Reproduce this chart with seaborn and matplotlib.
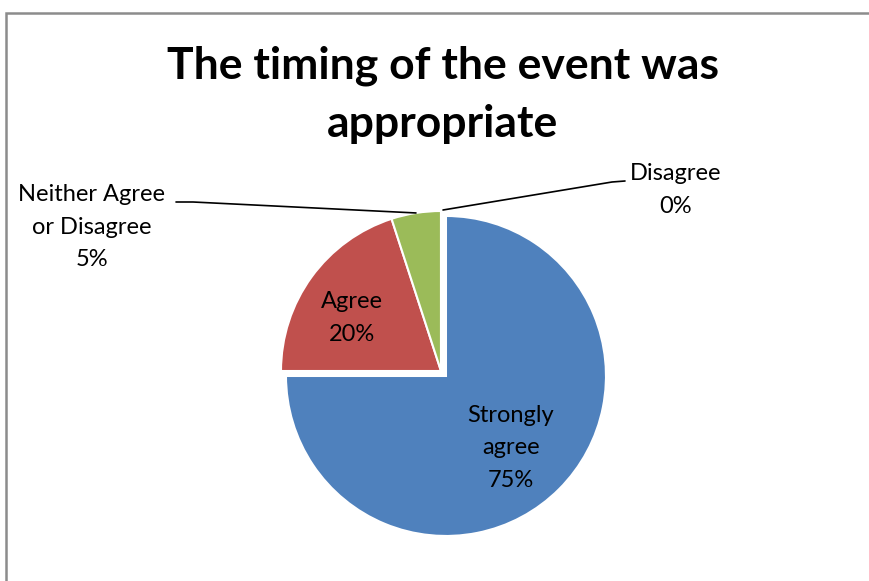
import numpy as np
import matplotlib
matplotlib.use("Agg")
import matplotlib.pyplot as plt
import seaborn as sns

# Survey responses
categories = ["Strongly agree", "Agree", "Neither Agree or Disagree", "Disagree"]
label_text = ["Strongly\nagree", "Agree", "Neither Agree\nor Disagree", "Disagree"]
percent = [75, 20, 5, 0]
colors = ["#4F81BD", "#C0504D", "#9BBB59", "#8064A2"]
title = "The timing of the event was\nappropriate"

sns.set_theme(style="white")
plt.rcParams["font.family"] = ["Lato", "DejaVu Sans"]

W, H = 869, 581
fig = plt.figure(figsize=(W / 100, H / 100), dpi=100)
ax = fig.add_axes([0, 0, 1, 1])
ax.set_xlim(0, W)
ax.set_ylim(0, H)
ax.set_aspect("equal")
ax.axis("off")

cx, cy, R = 441, H - 371, 160
# explode is given in data units when the radius is not 1
explode = [0.044 * R, 0, 0, 0]
wedges, _ = ax.pie(percent, colors=colors, startangle=90, counterclock=False,
                   center=(cx, cy), radius=R, explode=explode,
                   wedgeprops=dict(edgecolor="white", linewidth=1.5))
ax.set_xlim(0, W)
ax.set_ylim(0, H)

fs = 17
ls = 1.7
# In-slice labels
ax.text(511, H - 448, f"{label_text[0]}\n{percent[0]}%", ha="center", va="center",
        fontsize=fs, linespacing=ls, color="black")
ax.text(352, H - 318, f"{label_text[1]}\n{percent[1]}%", ha="center", va="center",
        fontsize=fs, linespacing=ls, color="black")

# Outside labels with leader lines to the slice arc
def arc_point(w):
    mid = np.deg2rad((w.theta1 + w.theta2) / 2)
    return w.center[0] + R * np.cos(mid), w.center[1] + R * np.sin(mid)

px, py = arc_point(wedges[2])
ax.plot([176, 193, px], [H - 202, H - 202, py], color="black", lw=1.2)
ax.text(92, H - 227, f"{label_text[2]}\n{percent[2]}%", ha="center", va="center",
        fontsize=fs, linespacing=ls, color="black")

qx, qy = arc_point(wedges[3])
ax.plot([qx + 2, 612, 625], [qy + 1, H - 182, H - 181], color="black", lw=1.2)
ax.text(676, H - 190, f"{label_text[3]}\n{percent[3]}%", ha="center", va="center",
        fontsize=fs, linespacing=ls, color="black")

ax.text(443, H - 95, title, ha="center", va="center", fontsize=32,
        fontweight="bold", linespacing=1.55, color="black")

# Chart-area frame (left and top edges visible)
ax.plot([6, 6, W + 5], [-5, H - 13, H - 13], color="#8c8c8c", lw=1.8,
        solid_joinstyle="miter")

fig.savefig("out.png", dpi=100, facecolor="white")
